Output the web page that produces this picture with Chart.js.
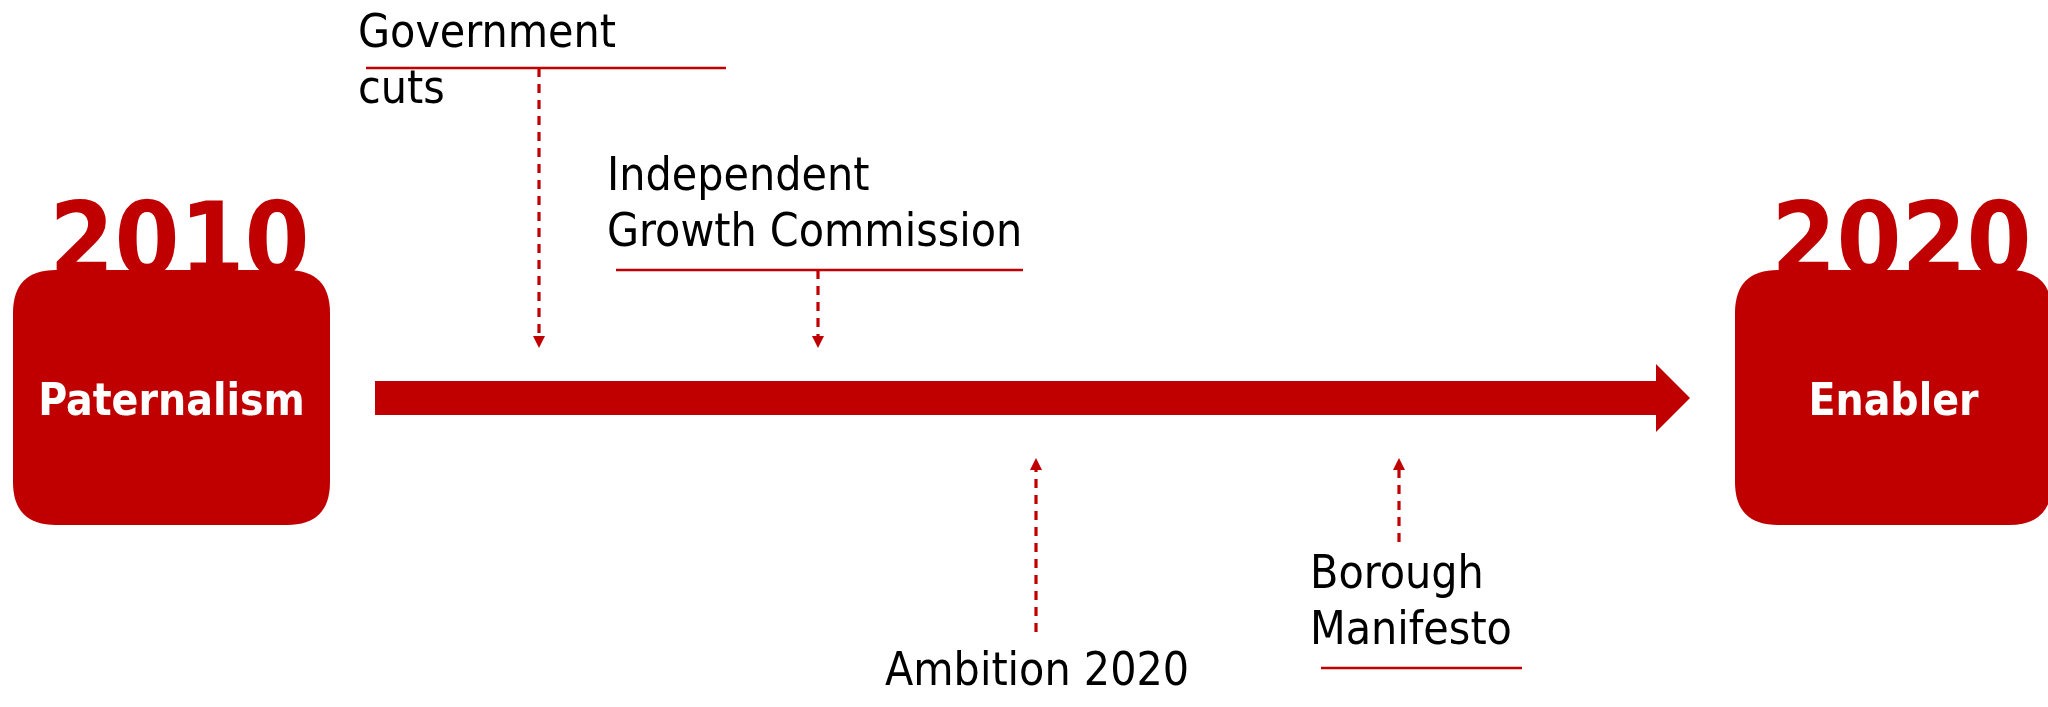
<!DOCTYPE html>
<html>
<head>
<meta charset="utf-8">
<script src="https://cdn.jsdelivr.net/npm/chart.js@4/dist/chart.umd.min.js"></script>
<style>
  html, body { margin: 0; padding: 0; background: #fff; }
  #wrap { width: 2048px; height: 707px; }
</style>
</head>
<body>
<div id="wrap"><canvas id="myChart"></canvas></div>
<script>
// Stages at each end of the timeline
const stageNames = ["Paternalism", "Enabler"];
const stageYears = ["2010", "2020"];
const stageFrom = [13, 1735]; // position along the timeline axis
const stageTo = [330, 2052];

// Milestones on the way
const milestoneLabels = [
  ["Government", "cuts"],
  ["Independent", "Growth Commission"],
  ["Ambition 2020"],
  ["Borough", "Manifesto"],
];
const milestoneX = [539, 818, 1036, 1399];
const milestoneSide = ["above", "above", "below", "below"];

// Timeline arrow
const timelineStart = 375;
const timelineEnd = 1690;

const RED = "#C00000";
const FONT = "'DejaVu Sans Condensed', 'DejaVu Sans', sans-serif";

// layout for each milestone label (chart units)
const labelLayout = [
  { x: 358, base: 47, rule: [366, 726, 68], from: 68, to: 348 },
  { x: 607, base: 190, rule: [616, 1023, 270], from: 270, to: 348 },
  { x: 885, base: 685, rule: null, from: 632, to: 458 },
  { x: 1310, base: 588, rule: [1321, 1522, 668], from: 542, to: 458 },
];

const datasets = [];

// shaft of the big arrow (head drawn by plugin)
datasets.push({
  data: [{ x: timelineStart, y: 398 }, { x: timelineEnd - 34, y: 398 }],
  borderColor: RED,
  borderWidth: 34,
  borderCapStyle: "butt",
  pointRadius: 0,
});

milestoneX.forEach((mx, i) => {
  const l = labelLayout[i];
  datasets.push({
    data: [{ x: mx, y: l.from }, { x: mx, y: l.to + (milestoneSide[i] === "above" ? -11 : 11) }],
    borderColor: RED,
    borderWidth: 3.2,
    borderDash: [9, 7],
    pointRadius: 0,
  });
  if (l.rule) {
    datasets.push({
      data: [{ x: l.rule[0], y: l.rule[2] }, { x: l.rule[1], y: l.rule[2] }],
      borderColor: RED,
      borderWidth: 2.5,
      pointRadius: 0,
    });
  }
});

function roundRect(ctx, x, y, w, h, r) {
  ctx.beginPath();
  ctx.moveTo(x + r, y);
  ctx.lineTo(x + w - r, y);
  ctx.quadraticCurveTo(x + w, y, x + w, y + r);
  ctx.lineTo(x + w, y + h - r);
  ctx.quadraticCurveTo(x + w, y + h, x + w - r, y + h);
  ctx.lineTo(x + r, y + h);
  ctx.quadraticCurveTo(x, y + h, x, y + h - r);
  ctx.lineTo(x, y + r);
  ctx.quadraticCurveTo(x, y, x + r, y);
  ctx.closePath();
}

const diagramPlugin = {
  id: "diagram",
  beforeDatasetsDraw(chart) {
    const ctx = chart.ctx;
    const xs = chart.scales.x;
    const ys = chart.scales.y;
    ctx.save();
    stageNames.forEach((name, i) => {
      const x0 = xs.getPixelForValue(stageFrom[i]);
      const x1 = xs.getPixelForValue(stageTo[i]);
      const y0 = ys.getPixelForValue(270);
      const y1 = ys.getPixelForValue(525);
      const cx = (x0 + x1) / 2;
      // year sits behind the box
      ctx.fillStyle = RED;
      ctx.font = "bold 104px " + FONT;
      ctx.textAlign = "center";
      ctx.textBaseline = "alphabetic";
      ctx.fillText(stageYears[i], cx + 8, y0 + 6);
      roundRect(ctx, x0, y0, x1 - x0, y1 - y0, 43);
      ctx.fill();
      ctx.fillStyle = "#fff";
      ctx.font = "bold 44px " + FONT;
      ctx.fillText(name, cx, ys.getPixelForValue(415));
    });
    ctx.restore();
  },
  afterDatasetsDraw(chart) {
    const ctx = chart.ctx;
    const xs = chart.scales.x;
    const ys = chart.scales.y;
    ctx.save();
    ctx.fillStyle = RED;
    // big arrow head
    ctx.beginPath();
    ctx.moveTo(xs.getPixelForValue(timelineEnd - 34), ys.getPixelForValue(364));
    ctx.lineTo(xs.getPixelForValue(timelineEnd), ys.getPixelForValue(398));
    ctx.lineTo(xs.getPixelForValue(timelineEnd - 34), ys.getPixelForValue(432));
    ctx.closePath();
    ctx.fill();

    milestoneX.forEach((mx, i) => {
      const l = labelLayout[i];
      const px = xs.getPixelForValue(mx);
      const tip = ys.getPixelForValue(l.to);
      const dir = milestoneSide[i] === "above" ? -1 : 1;
      ctx.fillStyle = RED;
      ctx.beginPath();
      ctx.moveTo(px, tip);
      ctx.lineTo(px - 6, tip + dir * 12);
      ctx.lineTo(px + 6, tip + dir * 12);
      ctx.closePath();
      ctx.fill();

      ctx.fillStyle = "#000";
      ctx.font = "46px " + FONT;
      ctx.textAlign = "left";
      ctx.textBaseline = "alphabetic";
      milestoneLabels[i].forEach((line, j) => {
        ctx.fillText(line, xs.getPixelForValue(l.x), ys.getPixelForValue(l.base + j * 56));
      });
    });
    ctx.restore();
  },
};

const ctx = document.getElementById("myChart").getContext("2d");
new Chart(ctx, {
  type: "line",
  data: { datasets: datasets },
  options: {
    responsive: true,
    maintainAspectRatio: false,
    animation: false,
    layout: { padding: 0 },
    scales: {
      x: { type: "linear", min: 0, max: 2048, display: false },
      y: { type: "linear", min: 0, max: 707, reverse: true, display: false },
    },
    plugins: {
      legend: { display: false },
      tooltip: { enabled: false },
    },
  },
  plugins: [diagramPlugin],
});
</script>
</body>
</html>
